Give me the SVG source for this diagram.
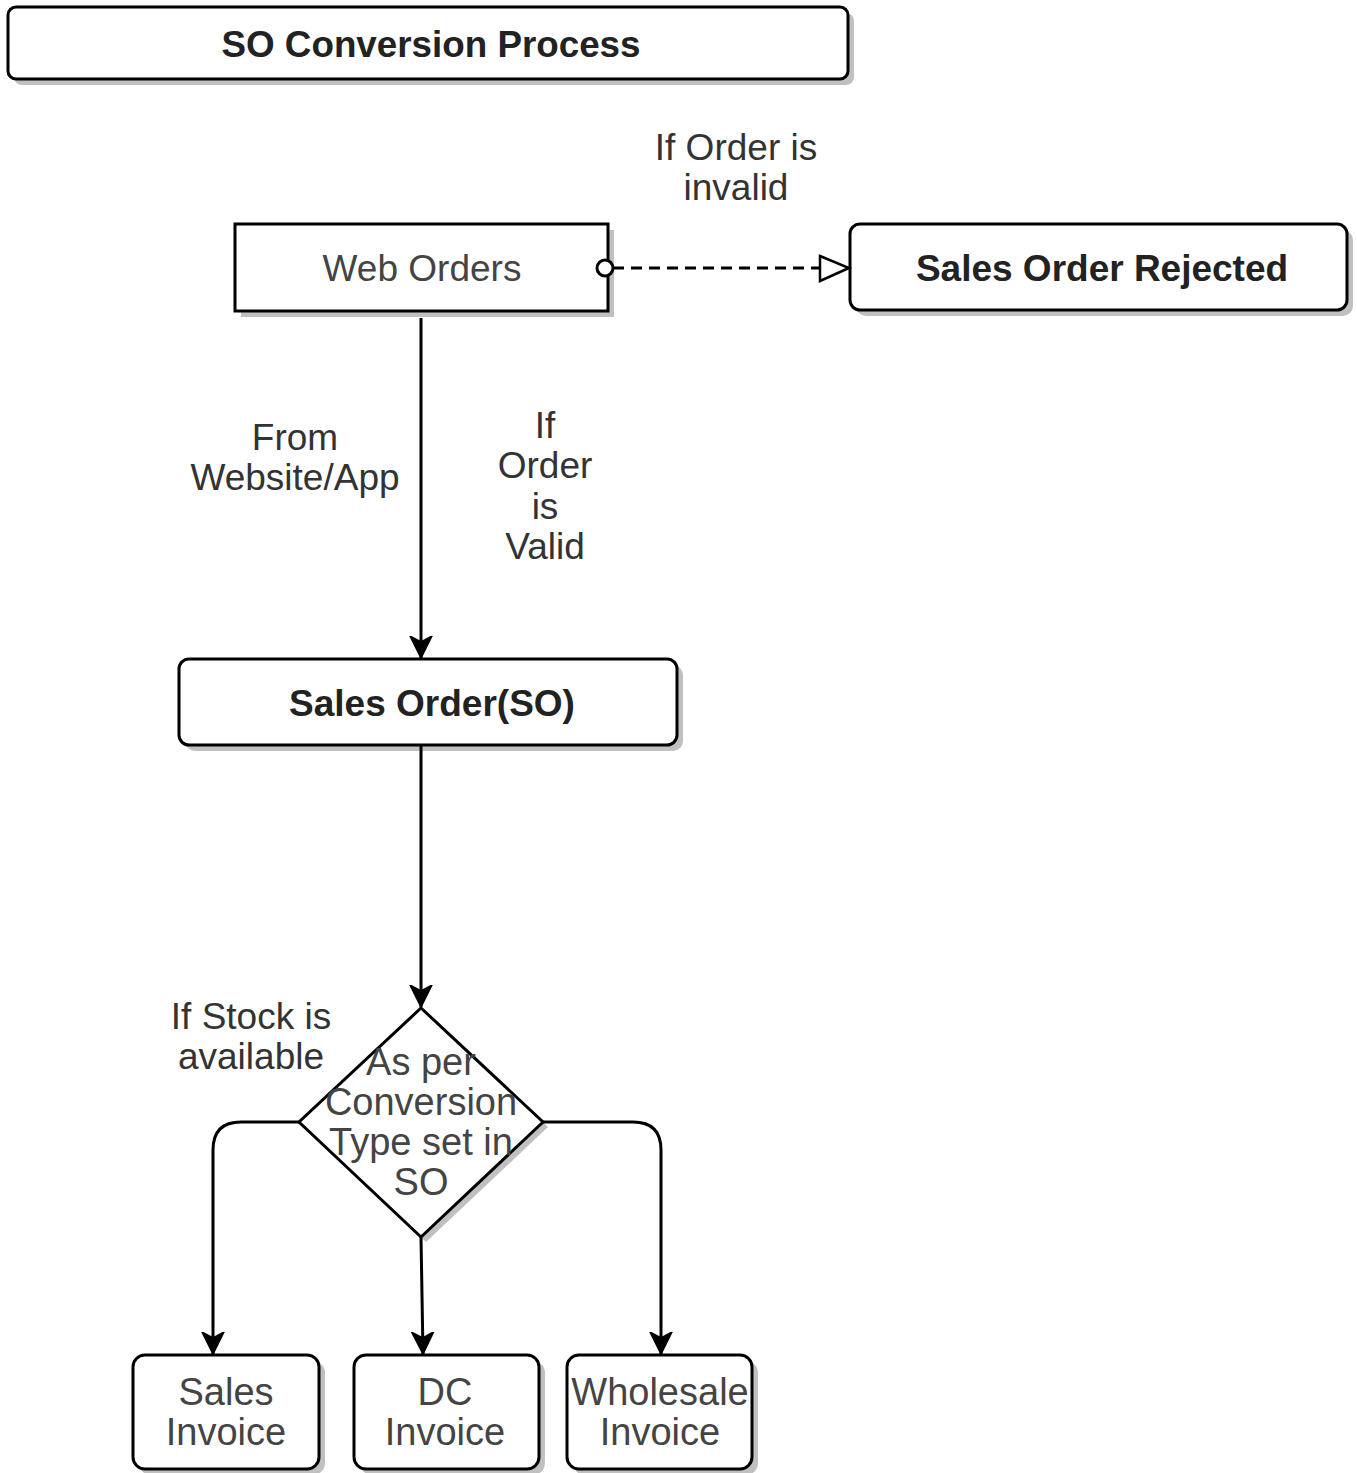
<svg xmlns="http://www.w3.org/2000/svg" width="1357" height="1473" viewBox="0 0 1357 1473">
  <style>
    .box { fill: #ffffff; stroke: #000000; stroke-width: 3; }
    .shadow { fill: #c0c0c0; stroke: none; }
    .edge { fill: none; stroke: #000000; stroke-width: 3; }
    .dash { fill: none; stroke: #000000; stroke-width: 3; stroke-dasharray: 11 7; }
    text { font-family: "Liberation Sans", Arial, sans-serif; font-size: 37px; text-anchor: middle; }
    .lbl { fill: #333333; }
    .node { fill: #444444; }
    .big { font-size: 38px; }
    .bold { fill: #222222; font-weight: bold; }
  </style>
  <defs>
    <marker id="arrow" viewBox="0 0 24 24" refX="22" refY="12" markerWidth="24" markerHeight="24" markerUnits="userSpaceOnUse" orient="auto">
      <path d="M0,1 L22,12 L0,23 L6,12 Z" fill="#000000" stroke="#000000" stroke-width="1.5"/>
    </marker>
  </defs>
  <rect width="1357" height="1473" fill="#ffffff"/>

  <!-- Title -->
  <g id="title">
    <rect class="shadow" x="14" y="13" width="840" height="72" rx="8"/>
    <rect class="box" x="8" y="7" width="840" height="72" rx="8"/>
    <text class="bold" x="431" y="57" font-size="40" textLength="419" lengthAdjust="spacingAndGlyphs">SO Conversion Process</text>
  </g>

  <g id="web-orders">
    <rect class="shadow" x="241" y="230" width="373" height="87"/>
    <rect class="box" x="235" y="224" width="373" height="87"/>
    <text class="node" x="422" y="281">Web Orders</text>
  </g>

  <g id="so-rejected">
    <rect class="shadow" x="856" y="230" width="497" height="86" rx="10"/>
    <rect class="box" x="850" y="224" width="497" height="86" rx="10"/>
    <text class="bold" x="1102" y="281">Sales Order Rejected</text>
  </g>

  <g id="sales-order">
    <rect class="shadow" x="185" y="665" width="498" height="86" rx="10"/>
    <rect class="box" x="179" y="659" width="498" height="86" rx="10"/>
    <text class="bold" x="432" y="716">Sales Order(SO)</text>
  </g>

  <g id="decision">
    <polygon class="shadow" points="426,1013 548,1127 426,1242 304,1127"/>
    <polygon class="box" points="421,1008 543,1122 421,1237 299,1122"/>
    <text class="node big" x="421" y="1075">As per</text>
    <text class="node big" x="421" y="1115">Conversion</text>
    <text class="node big" x="421" y="1155">Type set in</text>
    <text class="node big" x="421" y="1195">SO</text>
  </g>

  <g id="sales-invoice">
    <rect class="shadow" x="139" y="1361" width="186" height="114" rx="12"/>
    <rect class="box" x="133" y="1355" width="186" height="114" rx="12"/>
    <text class="node big" x="226" y="1405">Sales</text>
    <text class="node big" x="226" y="1445">Invoice</text>
  </g>

  <g id="dc-invoice">
    <rect class="shadow" x="360" y="1361" width="185" height="114" rx="12"/>
    <rect class="box" x="354" y="1355" width="185" height="114" rx="12"/>
    <text class="node big" x="445" y="1405">DC</text>
    <text class="node big" x="445" y="1445">Invoice</text>
  </g>

  <g id="wholesale-invoice">
    <rect class="shadow" x="573" y="1361" width="185" height="114" rx="12"/>
    <rect class="box" x="567" y="1355" width="185" height="114" rx="12"/>
    <text class="node big" x="660" y="1405">Wholesale</text>
    <text class="node big" x="660" y="1445">Invoice</text>
  </g>

  <!-- Connectors -->
  <g id="connectors">
    <line class="dash" x1="613" y1="268" x2="820" y2="268"/>
    <circle cx="605" cy="268" r="8" fill="#ffffff" stroke="#000000" stroke-width="3"/>
    <polygon points="820,256 849,268 820,281" fill="#ffffff" stroke="#000000" stroke-width="2.5"/>

    <line class="edge" x1="421" y1="318" x2="421" y2="658" marker-end="url(#arrow)"/>
    <line class="edge" x1="421" y1="745" x2="421" y2="1007" marker-end="url(#arrow)"/>

    <path class="edge" d="M299,1122 L241,1122 Q213,1122 213,1150 L213,1354" marker-end="url(#arrow)"/>
    <path class="edge" d="M421,1237 L423,1354" marker-end="url(#arrow)"/>
    <path class="edge" d="M543,1122 L633,1122 Q661,1122 661,1150 L661,1354" marker-end="url(#arrow)"/>
  </g>

  <!-- Edge labels -->
  <g id="labels">
    <text class="lbl" x="736" y="160">If Order is</text>
    <text class="lbl" x="736" y="200">invalid</text>
    <text class="lbl" x="295" y="450">From</text>
    <text class="lbl" x="295" y="490">Website/App</text>
    <text class="lbl" x="545" y="438">If</text>
    <text class="lbl" x="545" y="478">Order</text>
    <text class="lbl" x="545" y="519">is</text>
    <text class="lbl" x="545" y="559">Valid</text>
    <text class="lbl" x="251" y="1029">If Stock is</text>
    <text class="lbl" x="251" y="1069">available</text>
  </g>
</svg>
